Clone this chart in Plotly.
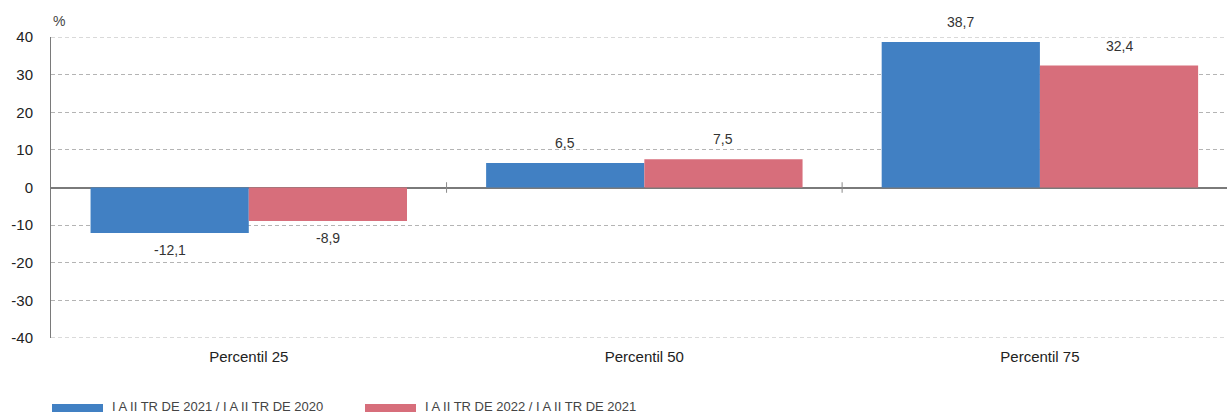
import plotly.graph_objects as go

categories = ["Percentil 25", "Percentil 50", "Percentil 75"]
series_names = ["I A II TR DE 2021 / I A II TR DE 2020", "I A II TR DE 2022 / I A II TR DE 2021"]
values_2021 = [-12.1, 6.5, 38.7]
values_2022 = [-8.9, 7.5, 32.4]
colors = ["#4180c3", "#d76e7b"]
y_ticks = [-40, -30, -20, -10, 0, 10, 20, 30, 40]

FONT = "Liberation Sans, Arial, sans-serif"
GRID_DASH = "4px,3px"

fig = go.Figure()
series = list(zip(series_names, [values_2021, values_2022], colors))
for name, vals, col in series:
    fig.add_trace(go.Bar(
        x=categories, y=vals, name=name,
        marker=dict(color=col, line=dict(width=0)),
        showlegend=False, hoverinfo="x+y",
    ))

# value labels over / under each bar (bar centres at +-0.2 within a group)
for k, (name, vals, col) in enumerate(series):
    dx = -0.2 if k == 0 else 0.2
    for i, v in enumerate(vals):
        fig.add_annotation(
            x=i + dx, y=v, xref="x", yref="y",
            text=f"{v:.1f}".replace(".", ","),
            showarrow=False, yanchor="middle",
            yshift=20 if v >= 0 else -17,
            font=dict(family=FONT, size=14, color="#333333"),
        )

fig.update_layout(
    width=1227, height=414,
    margin=dict(l=51, r=0, t=37, b=76),
    paper_bgcolor="white", plot_bgcolor="white",
    barmode="group", bargap=0.2, bargroupgap=0,
    separators=",.",
    font=dict(family=FONT, size=15, color="#222222"),
    showlegend=False,
)
fig.update_xaxes(
    range=[-0.5, 2.473], showgrid=False, showline=False, ticks="",
    tickfont=dict(size=15, color="#222222"), ticklabelstandoff=8,
)
fig.update_yaxes(
    range=[-40, 40], tickvals=y_ticks, ticktext=[str(v) for v in y_ticks],
    showgrid=True, gridcolor="#b4b4b4", griddash=GRID_DASH, gridwidth=1,
    zeroline=True, zerolinecolor="#7a7a7a", zerolinewidth=2,
    showline=True, linecolor="#7a7a7a", linewidth=1,
    ticks="", ticklabelstandoff=14,
    tickfont=dict(size=15, color="#222222"),
)

# dashed grid lines on the range limits
for yv in [y_ticks[0], y_ticks[-1]]:
    fig.add_shape(type="line", xref="paper", yref="y", x0=0, x1=1, y0=yv, y1=yv,
                  line=dict(color="#b4b4b4", width=1, dash=GRID_DASH), layer="below")

# tick marks on the zero line between categories
for xb in [0.5, 1.5]:
    fig.add_shape(type="line", xref="x", yref="y", x0=xb, x1=xb, y0=-1.4, y1=1.4,
                  line=dict(color="#8a8a8a", width=1))

# unit label above the value axis
fig.add_annotation(text="%", xref="paper", yref="paper", x=0, y=1, xanchor="left",
                   yanchor="bottom", yshift=6, showarrow=False,
                   font=dict(family=FONT, size=14, color="#444444"))

# legend drawn along the bottom
legend_x = [52, 365]
for name, col, lx in zip(series_names, colors, legend_x):
    fig.add_shape(type="rect", xref="paper", yref="paper",
                  x0=(lx - 51) / 1176, x1=(lx + 51 - 51) / 1176,
                  y0=-(404 - 338) / 301, y1=-(412 - 338) / 301,
                  line=dict(width=0), fillcolor=col)
    fig.add_annotation(text=name, xref="paper", yref="paper",
                       x=(lx + 58 - 51) / 1176, y=-(406 - 338) / 301,
                       xanchor="left", yanchor="middle", showarrow=False,
                       font=dict(family="Liberation Sans Narrow, " + FONT, size=13, color="#444444"))

fig.write_html("out.html")
